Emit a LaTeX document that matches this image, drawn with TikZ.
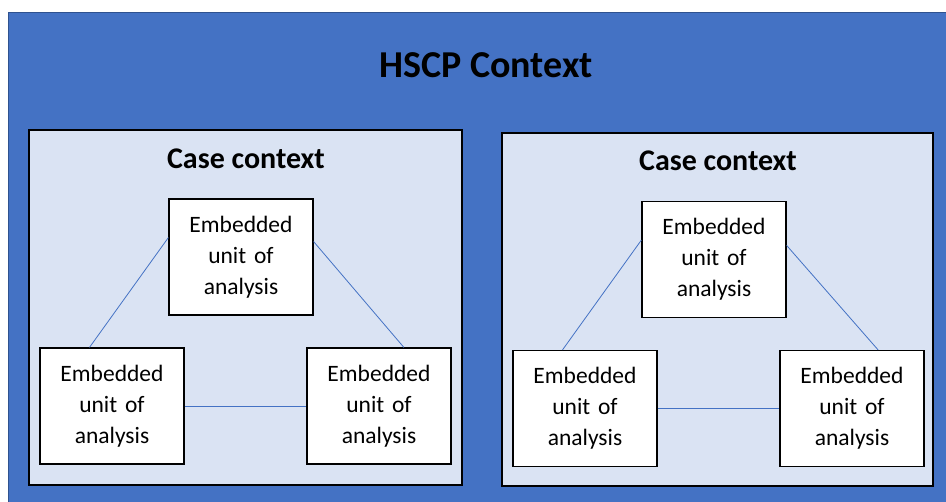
\documentclass[tikz,border=0pt]{standalone}
\usepackage{fontspec}
\setmainfont{Carlito}
\usepackage{tikz}
\definecolor{hscpblue}{HTML}{4472C4}
\definecolor{hscpedge}{HTML}{2F528F}
\definecolor{caseblue}{HTML}{DAE3F3}
\tikzstyle{context} = [rectangle, draw=black, line width=1.2pt, fill=caseblue, inner sep=0pt]
\tikzstyle{heading} = [anchor=base, font=\bfseries\fontsize{30}{36}\selectfont]
\tikzstyle{unit} = [rectangle, minimum width=144pt, minimum height=116pt, text width=130pt, align=center, draw=black, line width=1.2pt, fill=white, font=\fontsize{23.5}{31}\selectfont]
\tikzstyle{link} = [draw=hscpblue, line width=0.8pt]

\begin{document}
\begin{tikzpicture}[x=1pt, y=-1pt]
\useasboundingbox (0,0) rectangle (946,502);
\clip (0,0) rectangle (946,502);

% Background
\fill[hscpblue] (8,13) rectangle (960,515);
\draw[hscpedge, line width=1pt] (8,515) -- (8,13) -- (960,13);
\node (hscp) [anchor=base, font=\bfseries\fontsize{38}{44}\selectfont] at (486,78) {HSCP Context};

% Cases
\node (caseA) [context, minimum width=433pt, minimum height=355pt] at (245.5,307.5) {};
\node (caseB) [context, minimum width=431pt, minimum height=353pt] at (717.5,309.5) {};
\node (titleA) [heading] at (246,169) {Case context};
\node (titleB) [heading] at (718,171) {Case context};

% Nodes
\node (topA) [unit] at (241,257) {Embedded\\unit of\\analysis};
\node (leftA) [unit] at (112,406) {Embedded\\unit of\\analysis};
\node (rightA) [unit] at (379,406) {Embedded\\unit of\\analysis};
\node (topB) [unit] at (714,259.5) {Embedded\\unit of\\analysis};
\node (leftB) [unit] at (585,408.5) {Embedded\\unit of\\analysis};
\node (rightB) [unit] at (852,408.5) {Embedded\\unit of\\analysis};

% Lines
\draw [link] (topA.165) -- (leftA.111);
\draw [link] (topA.12) -- (rightA.67);
\draw [link] (leftA) -- (rightA);
\draw [link] (topB.165) -- (leftB.111);
\draw [link] (topB.11) -- (rightB.66);
\draw [link] (leftB) -- (rightB);

\end{tikzpicture}
\end{document}
